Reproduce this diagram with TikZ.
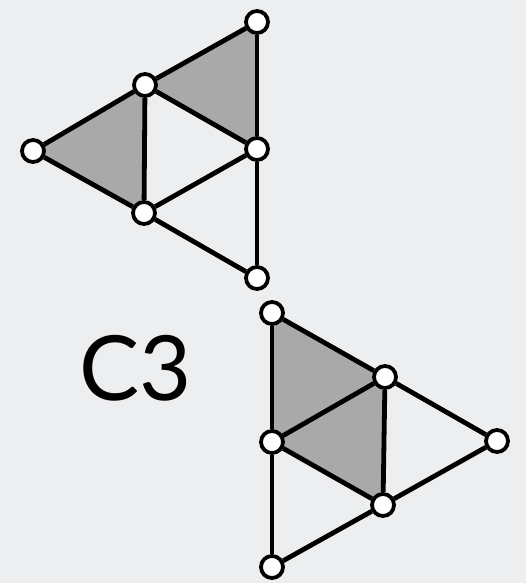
\documentclass[tikz,border=0pt]{standalone}
\usepackage{fontspec}
\setmainfont{Lato}
\usetikzlibrary{positioning, backgrounds}
\definecolor{BgGrey}{HTML}{EDEEF0}
\definecolor{FaceGrey}{HTML}{A9A9A9}
\tikzset{
  vtx/.style={circle, draw=black, fill=white, line width=3.8pt, minimum size=22pt, inner sep=0pt},
  edge/.style={line width=4.8pt},
  face/.style={fill=FaceGrey}
}
\begin{document}
\begin{tikzpicture}[x=1pt,y=-1pt]
  \useasboundingbox (0,0) rectangle (526,583);
  % upper triangle
  \node[vtx] (a1) at (257,22) {};
  \node[vtx] (b1) at (145,85) {};
  \node[vtx] (c1) at (33,151) {};
  \node[vtx] (d1) at (257,149) {};
  \node[vtx] (e1) at (144,213) {};
  \node[vtx] (f1) at (257,278) {};
  % lower triangle
  \node[vtx] (a2) at (272,313) {};
  \node[vtx] (b2) at (385,377) {};
  \node[vtx] (c2) at (497,441) {};
  \node[vtx] (d2) at (272,442) {};
  \node[vtx] (e2) at (383,505) {};
  \node[vtx] (f2) at (272,567) {};
  \node[font=\fontsize{90}{90}\selectfont] (lbl) at (136,368) {C3};
  \foreach \u/\v in {a1/b1,b1/c1,c1/e1,e1/f1,f1/d1,d1/a1,b1/d1,b1/e1,d1/e1,
                     a2/b2,b2/c2,c2/e2,e2/f2,f2/d2,d2/a2,b2/d2,b2/e2,d2/e2}
    \draw[edge] (\u) -- (\v);
  \begin{scope}[on background layer]
    \fill[BgGrey] (0,0) rectangle (526,583);
    \fill[face] (a1.center) -- (b1.center) -- (d1.center) -- cycle;
    \fill[face] (b1.center) -- (c1.center) -- (e1.center) -- cycle;
    \fill[face] (a2.center) -- (b2.center) -- (d2.center) -- cycle;
    \fill[face] (d2.center) -- (b2.center) -- (e2.center) -- cycle;
  \end{scope}
\end{tikzpicture}
\end{document}
